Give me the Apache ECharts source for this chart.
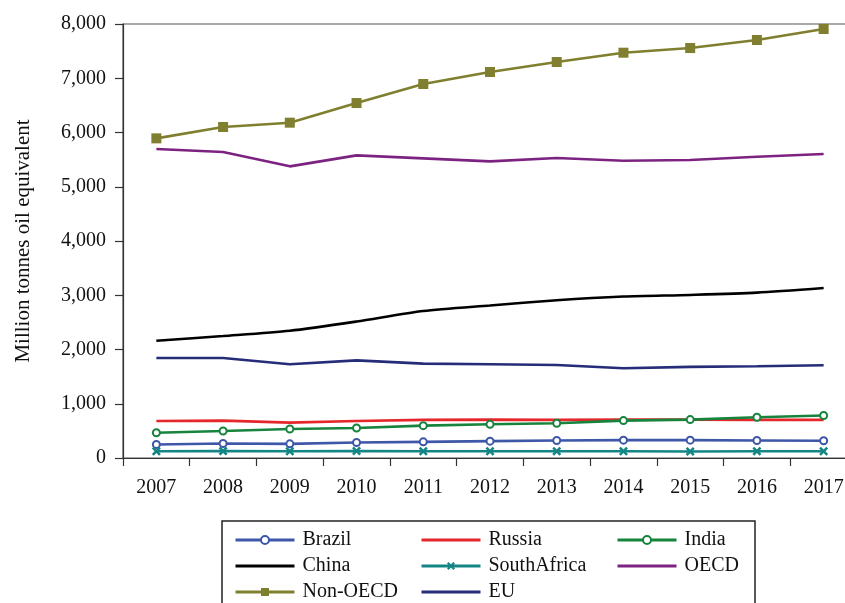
<!DOCTYPE html>
<html>
<head>
<meta charset="utf-8">
<script src="https://cdn.jsdelivr.net/npm/echarts@6/dist/echarts.min.js"></script>
<style>
  html, body { margin: 0; padding: 0; background: #fff; }
  #chart { width: 845px; height: 603px; }
</style>
</head>
<body>
<div id="chart"></div>
<script>
// Primary energy consumption, million tonnes oil equivalent
const years = ['2007', '2008', '2009', '2010', '2011', '2012', '2013', '2014', '2015', '2016', '2017'];
const yTicks = [0, 1000, 2000, 3000, 4000, 5000, 6000, 7000, 8000];

const brazil      = [248, 267, 261, 286, 298, 311, 323, 329, 329, 323, 317];
const russia      = [683, 689, 652, 683, 702, 708, 702, 708, 708, 702, 702];
const india       = [466, 497, 534, 553, 596, 621, 640, 689, 708, 752, 783];
const china       = [2160, 2248, 2345, 2515, 2709, 2812, 2909, 2976, 3006, 3048, 3133];
const southAfrica = [124, 127, 124, 130, 124, 124, 124, 124, 121, 124, 124];
const oecd        = [5695, 5640, 5376, 5578, 5523, 5468, 5529, 5480, 5492, 5554, 5603];
const nonOecd     = [5892, 6101, 6181, 6543, 6894, 7115, 7299, 7471, 7557, 7705, 7908];
const eu          = [1842, 1842, 1727, 1800, 1739, 1727, 1715, 1655, 1679, 1691, 1709];

const FONT = '"Liberation Serif", "Times New Roman", serif';
const CROSS = 'path://M2,0L5,3L8,0L10,2L7,5L10,8L8,10L5,7L2,10L0,8L3,5L0,2Z';

function lineSeries(name, data, color, extra) {
  return Object.assign({
    name: name,
    type: 'line',
    data: data,
    symbol: 'none',
    lineStyle: { color: color, width: 2.6 },
    itemStyle: { color: color },
    z: 2
  }, extra || {});
}

const series = [
  lineSeries('Brazil', brazil, '#3f57a8', {
    symbol: 'emptyCircle', symbolSize: 7,
    itemStyle: { color: '#3f57a8', borderWidth: 2.4 }
  }),
  lineSeries('Russia', russia, '#e5262b'),
  lineSeries('India', india, '#17843d', {
    symbol: 'emptyCircle', symbolSize: 7,
    itemStyle: { color: '#17843d', borderWidth: 2.4 }
  }),
  lineSeries('China', china, '#000000', { smooth: 0.25 }),
  lineSeries('SouthAfrica', southAfrica, '#148585', {
    symbol: CROSS, symbolSize: 9,
    itemStyle: { color: '#148585' }
  }),
  lineSeries('OECD', oecd, '#7c2382'),
  lineSeries('Non-OECD', nonOecd, '#7f7f2f', {
    symbol: 'rect', symbolSize: 10,
    itemStyle: { color: '#7f7f2f' }
  }),
  lineSeries('EU', eu, '#252c78')
];

// legend entries for plain lines show only the stroke, no marker
function plain(name) { return { name: name, itemStyle: { opacity: 0 } }; }

const legendBase = {
  orient: 'vertical',
  top: 530,
  height: 120,
  padding: 0,
  itemWidth: 59,
  itemHeight: 10,
  itemGap: 6,
  selectedMode: false,
  lineStyle: { width: 3 },
  textStyle: { fontFamily: FONT, fontSize: 20, color: '#111', lineHeight: 20, padding: [0, 0, 0, 3] }
};

const chart = echarts.init(document.getElementById('chart'), null, { renderer: 'canvas' });
chart.setOption({
  animation: false,
  backgroundColor: '#ffffff',
  grid: {
    left: 123, top: 24, width: 734, bottom: 145,
    outerBoundsMode: 'none',
    show: true, borderColor: '#555', borderWidth: 1.2, containLabel: false
  },
  legend: [
    Object.assign({}, legendBase, { left: 234, data: ['Brazil', plain('China'), 'Non-OECD'] }),
    Object.assign({}, legendBase, { left: 420, data: [plain('Russia'), 'SouthAfrica', plain('EU')] }),
    Object.assign({}, legendBase, { left: 616, data: ['India', plain('OECD')] })
  ],
  graphic: [{
    type: 'rect',
    shape: { x: 222, y: 521, width: 533, height: 100 },
    style: { fill: 'none', stroke: '#222', lineWidth: 1.5 },
    z: 10
  }],
  xAxis: {
    type: 'category',
    data: years,
    boundaryGap: true,
    axisLine: { lineStyle: { color: '#333', width: 1.2 } },
    axisTick: { show: true, length: 8, alignWithLabel: false, lineStyle: { color: '#333', width: 1.2 } },
    axisLabel: { fontFamily: FONT, fontSize: 20, color: '#111', margin: 20 },
    splitLine: { show: false }
  },
  yAxis: {
    type: 'value',
    min: yTicks[0],
    max: yTicks[yTicks.length - 1],
    interval: yTicks[1] - yTicks[0],
    name: 'Million tonnes oil equivalent',
    nameLocation: 'middle',
    nameGap: 89,
    nameTextStyle: { fontFamily: FONT, fontSize: 21, color: '#111' },
    axisLine: { show: true, lineStyle: { color: '#333', width: 1.2 } },
    axisTick: { show: true, length: 8, lineStyle: { color: '#333', width: 1.2 } },
    axisLabel: {
      fontFamily: FONT, fontSize: 20, color: '#111', margin: 17,
      formatter: v => v.toLocaleString('en-US')
    },
    splitLine: { show: false }
  },
  series: series
});
</script>
</body>
</html>
